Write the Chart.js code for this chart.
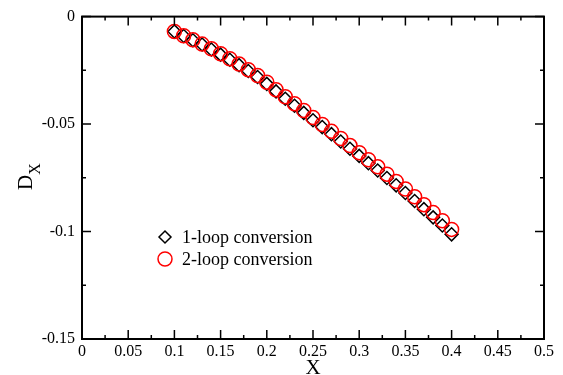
<!DOCTYPE html>
<html>
<head>
<meta charset="utf-8">
<script src="https://cdn.jsdelivr.net/npm/chart.js@4.4.1/dist/chart.umd.min.js"></script>
<style>
  html, body { margin: 0; padding: 0; background: #fff; }
</style>
</head>
<body>
<canvas id="myChart" width="563" height="375"></canvas>
<script>
"use strict";

// X values of both series
const xValues = [
  0.10, 0.11, 0.12, 0.13, 0.14, 0.15, 0.16, 0.17, 0.18, 0.19,
  0.20, 0.21, 0.22, 0.23, 0.24, 0.25, 0.26, 0.27, 0.28, 0.29,
  0.30, 0.31, 0.32, 0.33, 0.34, 0.35, 0.36, 0.37, 0.38, 0.39, 0.40
];
// 1-loop conversion (black diamonds)
const oneLoop = [
  -0.0069, -0.0090, -0.0110, -0.0130, -0.0153, -0.0177, -0.0201, -0.0226, -0.0253, -0.0281,
  -0.0313, -0.0348, -0.0382, -0.0415, -0.0448, -0.0482, -0.0514, -0.0547, -0.0581, -0.0615,
  -0.0648, -0.0682, -0.0716, -0.0751, -0.0785, -0.0821, -0.0858, -0.0896, -0.0934, -0.0972, -0.1013
];
// 2-loop conversion (red circles)
const twoLoop = [
  -0.0069, -0.0089, -0.0108, -0.0128, -0.0150, -0.0173, -0.0196, -0.0221, -0.0247, -0.0274,
  -0.0305, -0.0340, -0.0373, -0.0405, -0.0437, -0.0470, -0.0502, -0.0534, -0.0567, -0.0600,
  -0.0633, -0.0666, -0.0699, -0.0733, -0.0767, -0.0802, -0.0838, -0.0875, -0.0912, -0.0950, -0.0990
];
const seriesNames = ["1-loop conversion", "2-loop conversion"];
const xTicks = [0, 0.05, 0.1, 0.15, 0.2, 0.25, 0.3, 0.35, 0.4, 0.45, 0.5];
const yTicks = [-0.15, -0.1, -0.05, 0];

const serif = "'Liberation Serif', 'Times New Roman', serif";

function toPoints(xs, ys) {
  return xs.map((x, i) => ({ x: x, y: ys[i] }));
}

function fmt(v) {
  return String(Math.round(v * 1000) / 1000);
}

// midpoints between major ticks
function minorOf(ticks) {
  const out = [];
  for (let i = 0; i < ticks.length - 1; i++) out.push((ticks[i] + ticks[i + 1]) / 2);
  return out;
}

// frame + inward ticks on all four sides
const frameTicks = {
  id: "frameTicks",
  afterDatasetsDraw(chart) {
    const { ctx, chartArea: a, scales: { x, y } } = chart;
    ctx.save();
    ctx.strokeStyle = "#000";
    ctx.lineWidth = 1.5;
    ctx.beginPath();
    const tickX = (vals, len) => vals.forEach(v => {
      const px = x.getPixelForValue(v);
      ctx.moveTo(px, a.bottom); ctx.lineTo(px, a.bottom - len);
      ctx.moveTo(px, a.top); ctx.lineTo(px, a.top + len);
    });
    const tickY = (vals, len) => vals.forEach(v => {
      const py = y.getPixelForValue(v);
      ctx.moveTo(a.left, py); ctx.lineTo(a.left + len, py);
      ctx.moveTo(a.right, py); ctx.lineTo(a.right - len, py);
    });
    tickX(xTicks, 9);
    tickX(minorOf(xTicks), 4);
    tickY(yTicks, 9);
    tickY(minorOf(yTicks), 4);
    ctx.stroke();
    ctx.lineWidth = 2;
    ctx.strokeRect(a.left, a.top, a.right - a.left, a.bottom - a.top);
    ctx.restore();
  }
};

// legend inside the plot + y axis title with subscript
const extras = {
  id: "extras",
  afterDraw(chart) {
    const ctx = chart.ctx;
    ctx.save();
    // legend
    const lx = 165, ly = [237, 259];
    ctx.lineWidth = 1.5;
    ctx.strokeStyle = "#000";
    ctx.beginPath();
    ctx.moveTo(lx - 6, ly[0]); ctx.lineTo(lx, ly[0] - 6);
    ctx.lineTo(lx + 6, ly[0]); ctx.lineTo(lx, ly[0] + 6);
    ctx.closePath();
    ctx.stroke();
    ctx.strokeStyle = "#f00";
    ctx.beginPath();
    ctx.arc(lx, ly[1], 7, 0, Math.PI * 2);
    ctx.stroke();
    ctx.fillStyle = "#000";
    ctx.font = "18px " + serif;
    ctx.textAlign = "left";
    ctx.textBaseline = "middle";
    ctx.fillText(seriesNames[0], 182, ly[0] + 1);
    ctx.fillText(seriesNames[1], 182, ly[1] + 1);

    // y title D_X
    ctx.translate(32, 190);
    ctx.rotate(-Math.PI / 2);
    ctx.textBaseline = "alphabetic";
    ctx.font = "21px " + serif;
    ctx.fillText("D", 0, 0);
    const w = ctx.measureText("D").width;
    ctx.font = "16px " + serif;
    ctx.fillText("X", w, 8);
    ctx.restore();
  }
};

const ctx = document.getElementById("myChart").getContext("2d");
const chart = new Chart(ctx, {
  type: "scatter",
  data: {
    datasets: [
      {
        label: seriesNames[0],
        data: toPoints(xValues, oneLoop),
        pointStyle: "rectRot",
        pointRadius: 6.5,
        pointBorderWidth: 1.5,
        borderColor: "#000",
        backgroundColor: "rgba(0,0,0,0)",
        order: 2
      },
      {
        label: seriesNames[1],
        data: toPoints(xValues, twoLoop),
        pointStyle: "circle",
        pointRadius: 7,
        pointBorderWidth: 1.5,
        borderColor: "#f00",
        backgroundColor: "rgba(0,0,0,0)",
        order: 1
      }
    ]
  },
  options: {
    responsive: false,
    animation: false,
    layout: { padding: { top: 15, right: 19, left: 0, bottom: 0 } },
    plugins: {
      legend: { display: false },
      tooltip: { enabled: false }
    },
    scales: {
      x: {
        type: "linear",
        min: 0,
        max: 0.5,
        grid: { display: false, drawTicks: false },
        border: { display: false },
        afterBuildTicks: s => { s.ticks = xTicks.map(v => ({ value: v })); },
        afterFit: s => { s.height = 36; },
        ticks: {
          autoSkip: false,
          maxRotation: 0,
          padding: 3,
          color: "#000",
          font: { family: serif, size: 16 },
          callback: v => fmt(v)
        },
        title: {
          display: true,
          text: "X",
          color: "#000",
          font: { family: serif, size: 21, lineHeight: 1 },
          padding: { top: 0, bottom: -4 }
        }
      },
      y: {
        type: "linear",
        min: -0.15,
        max: 0,
        grid: { display: false, drawTicks: false },
        border: { display: false },
        afterBuildTicks: s => { s.ticks = yTicks.map(v => ({ value: v })); },
        afterFit: s => { s.width = 82; },
        ticks: {
          autoSkip: false,
          padding: 7,
          color: "#000",
          font: { family: serif, size: 16 },
          callback: v => fmt(v)
        }
      }
    }
  },
  plugins: [frameTicks, extras]
});
</script>
</body>
</html>
